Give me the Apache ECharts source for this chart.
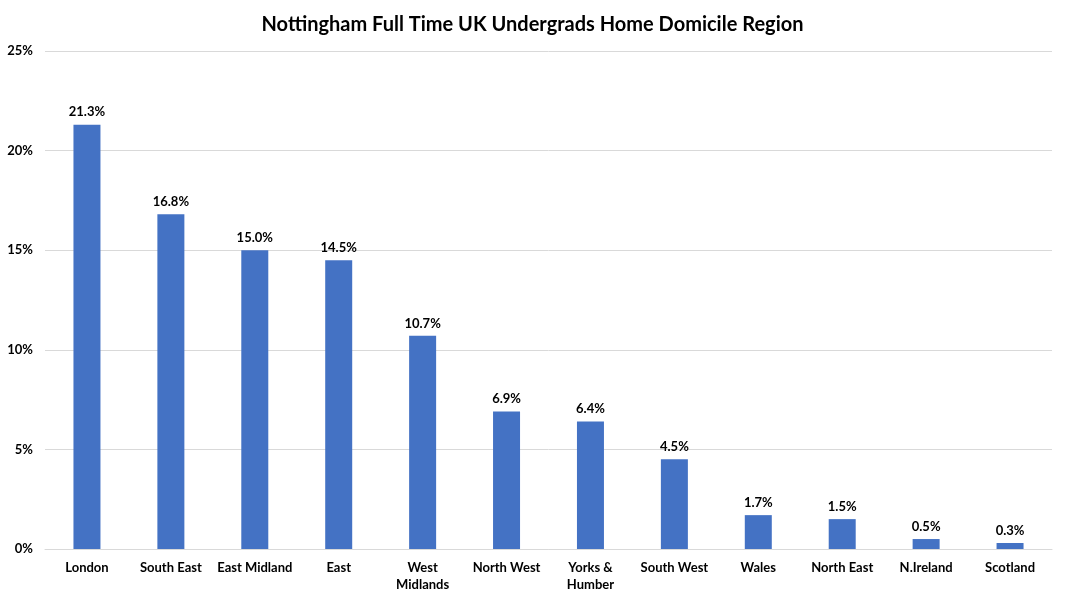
<!DOCTYPE html>
<html><head><meta charset="utf-8">
<script src="https://cdn.jsdelivr.net/npm/echarts@6/dist/echarts.min.js"></script>
<style>html,body{margin:0;padding:0;background:#fff}#c{width:1065px;height:600px}</style>
</head><body><div id="c"></div>
<script>
const categories = ['London','South East','East Midland','East','West\nMidlands','North West','Yorks &\nHumber','South West','Wales','North East','N.Ireland','Scotland'];
const values = [21.3,16.8,15.0,14.5,10.7,6.9,6.4,4.5,1.7,1.5,0.5,0.3];
const yTicks = [0,5,10,15,20,25];
const font = 'Lato, "Open Sans", sans-serif';
const chart = echarts.init(document.getElementById('c'));
chart.setOption({
  animation:false,
  title:{text:'Nottingham Full Time UK Undergrads Home Domicile Region',left:'center',top:10,
    textStyle:{fontFamily:font,fontSize:20,fontWeight:'bold',color:'#000'}},
  grid:{left:45,right:13,top:51,bottom:51,containLabel:false},
  xAxis:{type:'category',data:categories,
    axisLine:{lineStyle:{color:'#d9d9d9'}},axisTick:{show:false},
    axisLabel:{fontFamily:font,fontSize:13,fontWeight:'bold',color:'#000',margin:10,lineHeight:17,interval:0}},
  yAxis:{type:'value',min:yTicks[0],max:yTicks[yTicks.length-1],interval:5,
    axisLine:{show:false},axisTick:{show:false},
    splitLine:{lineStyle:{color:'#d9d9d9'}},
    axisLabel:{formatter:v=>v+'%',fontFamily:font,fontSize:13,fontWeight:'bold',color:'#000',margin:12}},
  series:[{type:'bar',data:values,barWidth:27,itemStyle:{color:'#4472C4'},
    label:{show:true,position:'top',distance:6,formatter:p=>p.value.toFixed(1)+'%',
      fontFamily:font,fontSize:13,fontWeight:'bold',color:'#000'}}]
});
</script></body></html>
